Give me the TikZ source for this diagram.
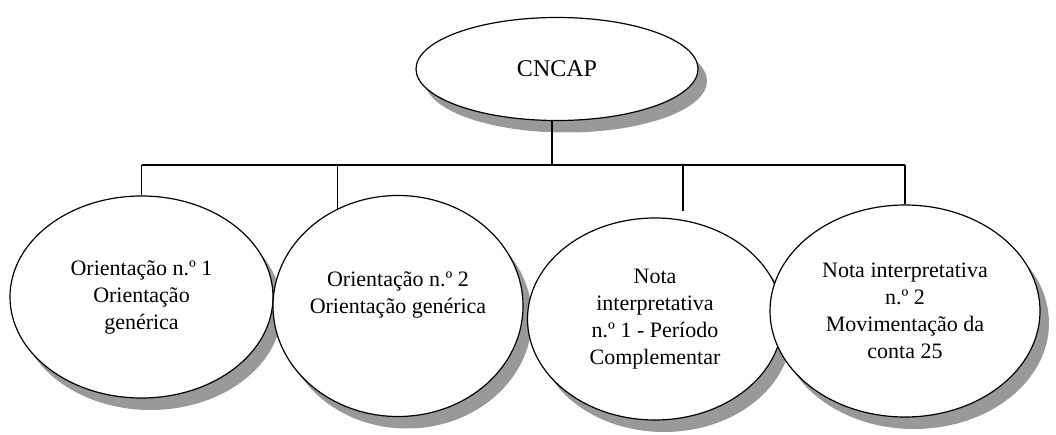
\documentclass[tikz,border=0pt]{standalone}
\usepackage{fontspec}
\setmainfont{Liberation Serif}
\usetikzlibrary{shapes.geometric,shadows}
\begin{document}
\begin{tikzpicture}[x=1pt,y=-1pt,
  oval/.style={ellipse,draw,line width=1.2pt,fill=white,inner sep=0pt,align=center,
    font=\fontsize{22}{27}\selectfont,
    drop shadow={shadow xshift=9pt,shadow yshift=-12pt,fill=black!40,opacity=1}},
  link/.style={line width=1.3pt}]
\useasboundingbox (0,0) rectangle (1056,435);
\node[oval,minimum width=282pt,minimum height=103pt,font=\fontsize{24}{28}\selectfont] (top) at (557,69) {CNCAP};
\node[oval,minimum width=263pt,minimum height=202pt] (e1) at (141.5,297) {Orientação n.º 1\\Orientação\\genérica};
\node[oval,minimum width=250pt,minimum height=221pt] (e2) at (398,306) {Orientação n.º 2\\Orientação genérica\\\mbox{}};
\node[oval,minimum width=255pt,minimum height=202pt] (e3) at (655,319) {Nota\\interpretativa\\n.º 1 - Período\\Complementar};
\node[oval,minimum width=270pt,minimum height=212pt] (e4) at (905,311) {Nota interpretativa\\n.º 2\\Movimentação da\\conta 25};
\coordinate (bus) at (552,165);
\coordinate (d3) at (683,211);
\draw[link] (bus |- top.south) -- (bus);
\draw[link] (e1.north |- bus) -- (e4.north |- bus);
\draw[link] (e1.north) -- (e1.north |- bus);
\draw[link] (e2.122) -- (e2.122 |- bus);
\draw[link] (d3) -- (d3 |- bus);
\draw[link] (e4.north) -- (e4.north |- bus);
\end{tikzpicture}
\end{document}
